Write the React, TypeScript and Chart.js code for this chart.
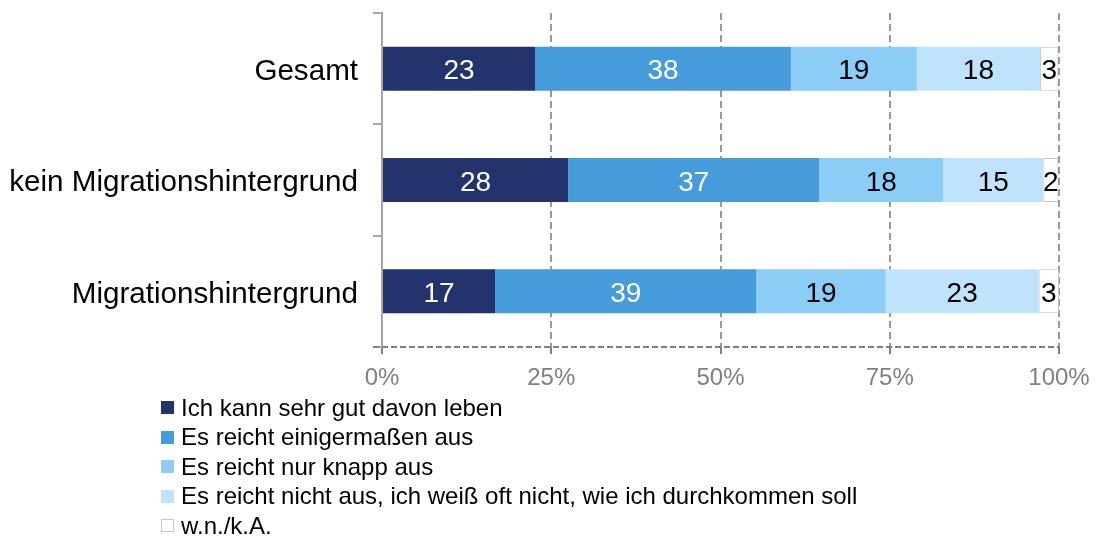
import React, { useEffect, useRef } from "react";
import { Chart, registerables } from "chart.js";

Chart.register(...registerables);

const categories = ["Gesamt", "kein Migrationshintergrund", "Migrationshintergrund"];
const seriesNames = [
  "Ich kann sehr gut davon leben",
  "Es reicht einigermaßen aus",
  "Es reicht nur knapp aus",
  "Es reicht nicht aus, ich weiß oft nicht, wie ich durchkommen soll",
  "w.n./k.A.",
];
const sehrGut = [22.6, 27.5, 16.7];
const einigermassen = [37.8, 37.1, 38.6];
const knapp = [18.6, 18.3, 19.1];
const nichtAus = [18.2, 14.8, 22.6];
const wnka = [2.7, 2.2, 3.0];
const xTicks = [0, 25, 50, 75, 100];

const fills = ["#22336e", "#469bdb", "#8bcdf6", "#bfe3fb", "#ffffff"];
const borders = ["#22336e", "#469bdb", "#8bcdf6", "#bfe3fb", "#c4c4c4"];
const labelColors = ["#ffffff", "#ffffff", "#000000", "#000000", "#000000"];
const FONT = "'Liberation Sans', Arial, Helvetica, sans-serif";

const valueLabels = {
  id: "valueLabels",
  afterDatasetsDraw(chart: any) {
    const ctx = chart.ctx;
    ctx.save();
    ctx.font = `28px ${FONT}`;
    ctx.textAlign = "center";
    ctx.textBaseline = "middle";
    chart.data.datasets.forEach((ds: any, i: number) => {
      const meta = chart.getDatasetMeta(i);
      meta.data.forEach((el: any, j: number) => {
        const v = ds.data[j];
        const cx = (el.x + el.base) / 2;
        ctx.fillStyle = labelColors[i];
        ctx.fillText(String(Math.round(v)), cx, el.y + 3);
      });
    });
    ctx.restore();
  },
};

// dashed x-axis baseline (Chart.js draws axis borders solid)
const dashedXAxis = {
  id: "dashedXAxis",
  afterDraw(chart: any) {
    const { ctx, chartArea } = chart;
    const y = chart.scales.x.top;
    ctx.save();
    ctx.strokeStyle = "#808080";
    ctx.lineWidth = 2;
    ctx.setLineDash([6, 3]);
    ctx.beginPath();
    ctx.moveTo(chartArea.left - 9, y);
    ctx.lineTo(chartArea.right, y);
    ctx.stroke();
    ctx.restore();
  },
};

export default function App() {
  const ref = useRef<HTMLCanvasElement | null>(null);

  useEffect(() => {
    if (!ref.current) return;
    const seriesData = [sehrGut, einigermassen, knapp, nichtAus, wnka];
    const chart = new Chart(ref.current, {
      type: "bar",
      data: {
        labels: categories,
        datasets: seriesData.map((d, i) => ({
          label: seriesNames[i],
          data: d,
          backgroundColor: fills[i],
          borderColor: borders[i],
          borderWidth: i === 4 ? 1 : 0,
          borderSkipped: false,
          barPercentage: 0.395,
          categoryPercentage: 1,
        })),
      },
      options: {
        indexAxis: "y",
        responsive: false,
        animation: false,
        devicePixelRatio: 1,
        layout: { padding: { left: 0, top: 13, right: 38, bottom: 0 } },
        plugins: {
          legend: { display: false },
          tooltip: { enabled: false },
        },
        scales: {
          x: {
            stacked: true,
            min: 0,
            max: 100,
            afterBuildTicks: (scale: any) => {
              scale.ticks = xTicks.map((v) => ({ value: v }));
            },
            afterFit: (scale: any) => {
              scale.height = 53;
              scale.paddingLeft = 0;
              scale.paddingRight = 0;
            },
            ticks: {
              callback: (v: any) => `${v}%`,
              color: "#808080",
              font: { family: FONT, size: 24 },
              padding: 10,
              maxRotation: 0,
            },
            grid: {
              color: "#999999",
              lineWidth: 2,
              drawTicks: true,
              tickLength: 7,
              tickColor: "#808080",
              tickWidth: 2,
              tickBorderDash: [],
            } as any,
            border: {
              display: false,
              dash: [7, 4],
            },
          },
          y: {
            stacked: true,
            afterFit: (scale: any) => {
              scale.width = 382;
              scale.paddingTop = 0;
              scale.paddingBottom = 0;
            },
            ticks: {
              color: "#000000",
              font: { family: FONT, size: 29.6 },
              padding: 15,
              labelOffset: 3,
            },
            grid: {
              offset: true,
              drawOnChartArea: false,
              drawTicks: true,
              tickLength: 9,
              color: "#a6a6a6",
              lineWidth: 2,
            },
            border: {
              display: true,
              color: "#a6a6a6",
              width: 2,
            },
          },
        },
      },
      plugins: [valueLabels, dashedXAxis],
    } as any);
    return () => chart.destroy();
  }, []);

  return (
    <div
      style={{
        position: "absolute",
        left: 0,
        top: 0,
        width: 1097,
        height: 539,
        background: "#ffffff",
        fontFamily: FONT,
      }}
    >
      <canvas
        ref={ref}
        width={1097}
        height={400}
        style={{ position: "absolute", left: 0, top: 0, width: 1097, height: 400 }}
      />
      <div style={{ position: "absolute", left: 161, top: 392.75 }}>
        {seriesNames.map((name, i) => (
          <div
            key={name}
            style={{
              display: "flex",
              alignItems: "center",
              height: 29.5,
              fontSize: 24,
              color: "#000000",
              whiteSpace: "nowrap",
            }}
          >
            <span
              style={{
                display: "inline-block",
                width: 13,
                height: 13,
                boxSizing: "border-box",
                background: fills[i],
                border: i === 4 ? "1px solid #c8c8c8" : "none",
                marginRight: 7,
              }}
            />
            <span>{name}</span>
          </div>
        ))}
      </div>
    </div>
  );
}
